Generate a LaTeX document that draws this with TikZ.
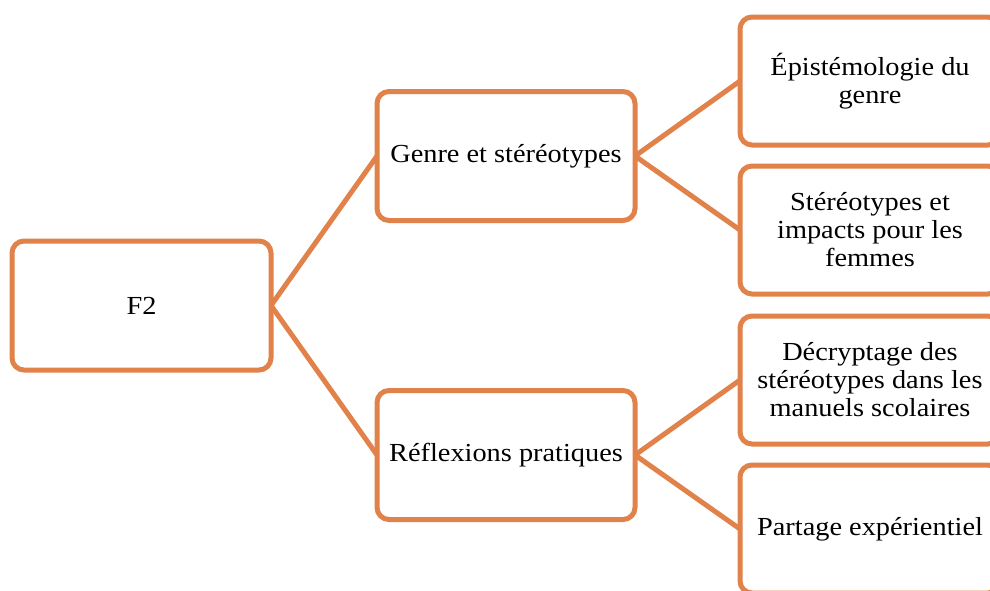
\documentclass[tikz,border=0pt]{standalone}
\usepackage{fontspec}
\setmainfont{Liberation Serif}[FakeStretch=1.09]
\definecolor{acc}{RGB}{224,130,74}
\begin{document}
\begin{tikzpicture}[x=1pt,y=-1pt,
  box/.style={draw=acc, line width=5pt, rounded corners=12pt, fill=white, align=center,
    inner sep=0pt, outer sep=0pt, font=\fontsize{26}{28}\selectfont},
  leaf/.style={box, minimum width=260pt, minimum height=128pt},
  mid/.style={box, minimum width=258pt, minimum height=129pt},
  link/.style={draw=acc, line width=5pt}]
\useasboundingbox (0,0) rectangle (990,590);
\clip (0,0) rectangle (990,590);
\node[box, minimum width=259pt, minimum height=129pt] (f2) at (141.5,305.5) {F2};
\node[mid] (g) at (506,156) {Genre et stéréotypes};
\node[mid] (r) at (506,455) {Réflexions pratiques};
\node[leaf] (e) at (870,81) {Épistémologie du\\genre};
\node[leaf] (s) at (870,230) {Stéréotypes et\\impacts pour les\\femmes};
\node[leaf] (d) at (870,380) {Décryptage des\\stéréotypes dans les\\manuels scolaires};
\node[leaf] (p) at (870,529) {Partage expérientiel};
\draw[link] (f2.east) -- (g.west);
\draw[link] (f2.east) -- (r.west);
\draw[link] (g.east) -- (e.west);
\draw[link] (g.east) -- (s.west);
\draw[link] (r.east) -- (d.west);
\draw[link] (r.east) -- (p.west);
\end{tikzpicture}
\end{document}
